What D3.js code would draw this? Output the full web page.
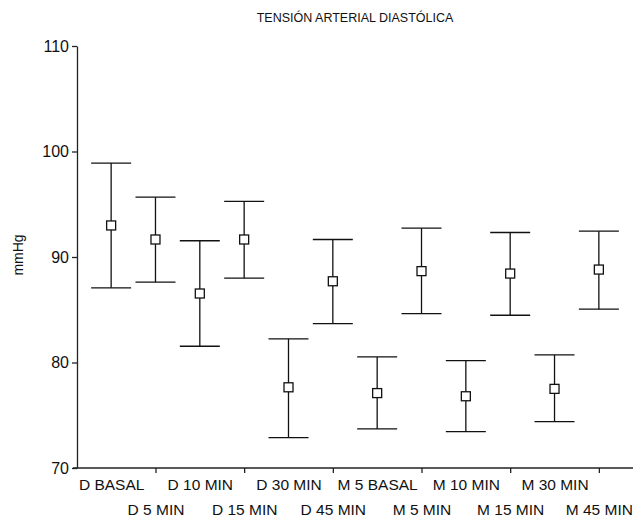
<!DOCTYPE html>
<html>
<head>
<meta charset="utf-8">
<script src="https://cdn.jsdelivr.net/npm/d3@7"></script>
<style>
  body { margin: 0; background: #fff; }
  text { font-family: "Liberation Sans", Arial, sans-serif; fill: #111; }
</style>
</head>
<body>
<div id="chart"></div>
<script>
// categories and values
const categories = ["D BASAL", "D 5 MIN", "D 10 MIN", "D 15 MIN", "D 30 MIN", "D 45 MIN",
                    "M 5 BASAL", "M 5 MIN", "M 10 MIN", "M 15 MIN", "M 30 MIN", "M 45 MIN"];
const means = [92.99, 91.66, 86.54, 91.66, 77.65, 87.7, 77.1, 88.66, 76.8, 88.43, 77.5, 88.81];
const upper = [98.9, 95.67, 91.54, 95.27, 82.24, 91.66, 80.53, 92.73, 80.18, 92.32, 80.72, 92.45];
const lower = [87.08, 87.61, 81.54, 87.99, 72.87, 83.69, 73.7, 84.64, 73.44, 84.48, 74.39, 85.05];
const yTicks = [70, 80, 90, 100, 110];

const width = 638, height = 521;
const margin = { top: 46, right: 5, bottom: 53, left: 77 };

const svg = d3.select("#chart").append("svg")
    .attr("width", width)
    .attr("height", height);

const x = d3.scalePoint()
    .domain(categories)
    .range([margin.left, width - margin.right])
    .padding(0.77);

const y = d3.scaleLinear()
    .domain([70, 110])
    .range([height - margin.bottom, margin.top]);

const data = categories.map((c, i) => ({ cat: c, mean: means[i], hi: upper[i], lo: lower[i] }));

// y axis
const yAxis = svg.append("g")
    .attr("transform", `translate(${margin.left},0)`)
    .call(d3.axisLeft(y).tickValues(yTicks).tickSize(5).tickPadding(3).tickSizeOuter(0));
yAxis.select(".domain").attr("stroke", "#222").attr("stroke-width", 1.3);
yAxis.selectAll(".tick line").attr("stroke", "#222").attr("stroke-width", 1.3);
yAxis.selectAll(".tick text")
    .style("font-size", "16px")
    .attr("fill", "#111");

// x axis: tick marks only on every other category, labels staggered in two rows
const xAxis = svg.append("g")
    .attr("transform", `translate(0,${y(70)})`)
    .call(d3.axisBottom(x).tickSize(5).tickSizeOuter(0));
xAxis.select(".domain")
    .attr("d", `M${margin.left - 4},0H${width - margin.right}`)
    .attr("stroke", "#222").attr("stroke-width", 1.3);
xAxis.selectAll(".tick line")
    .attr("stroke", "#222").attr("stroke-width", 1.3)
    .attr("y2", (d, i) => i % 2 ? 5 : 0);
xAxis.selectAll(".tick text")
    .style("font-size", "15.5px")
    .attr("fill", "#111")
    .attr("dy", null)
    .attr("y", (d, i) => i % 2 ? 47 : 22);

// error bars
const capW = 20;
const bars = svg.append("g").selectAll("g")
    .data(data)
    .join("g")
    .attr("stroke", "#111")
    .attr("stroke-width", 1.3)
    .attr("fill", "none");

bars.append("line")
    .attr("x1", d => x(d.cat)).attr("x2", d => x(d.cat))
    .attr("y1", d => y(d.hi)).attr("y2", d => y(d.lo));
bars.append("line")
    .attr("x1", d => x(d.cat) - capW).attr("x2", d => x(d.cat) + capW)
    .attr("y1", d => y(d.hi)).attr("y2", d => y(d.hi));
bars.append("line")
    .attr("x1", d => x(d.cat) - capW).attr("x2", d => x(d.cat) + capW)
    .attr("y1", d => y(d.lo)).attr("y2", d => y(d.lo));
bars.append("rect")
    .attr("x", d => x(d.cat) - 4.5)
    .attr("y", d => y(d.mean) - 4.5)
    .attr("width", 9).attr("height", 9)
    .attr("fill", "#fff");

// titles
svg.append("text")
    .attr("x", 355)
    .attr("y", 22)
    .attr("text-anchor", "middle")
    .style("font-size", "12.5px")
    .text("TENSIÓN ARTERIAL DIASTÓLICA");

svg.append("text")
    .attr("transform", `translate(23,255) rotate(-90)`)
    .attr("text-anchor", "middle")
    .style("font-size", "14px")
    .text("mmHg");
</script>
</body>
</html>
